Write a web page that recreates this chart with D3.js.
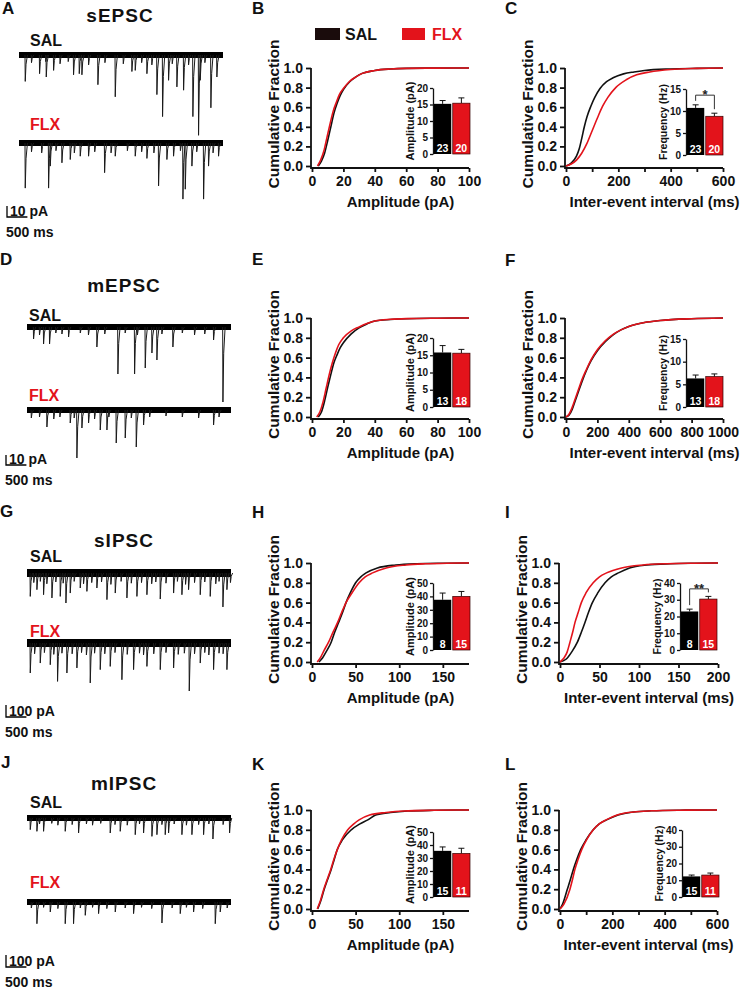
<!DOCTYPE html>
<html><head><meta charset="utf-8">
<script src="https://cdn.jsdelivr.net/npm/d3@7"></script>
<style>
body{margin:0;background:#fff}
svg text{font-family:"Liberation Sans",Arial,Helvetica,sans-serif;font-weight:bold}
</style>
</head><body>
<svg id="c" width="742" height="989"></svg>
<script>
const RED = "#e3131b";
const groups = ["SAL", "FLX"];

// ---------- cumulative distributions [x, fraction] ----------
const cumB_SAL = [[4,0],[6,0.05],[8,0.13],[10,0.26],[12,0.4],[14,0.54],[16,0.64],[18,0.72],[20,0.78],[24,0.86],[28,0.91],[32,0.945],[40,0.975],[50,0.99],[60,0.996],[80,0.999],[100,1]];
const cumB_FLX = [[3.5,0],[5.5,0.06],[7.5,0.15],[9.5,0.29],[11.5,0.43],[13.5,0.56],[15.5,0.65],[17.5,0.73],[20,0.79],[24,0.865],[28,0.91],[32,0.945],[40,0.975],[50,0.99],[60,0.996],[80,0.999],[100,1]];
const cumC_SAL = [[0,0],[20,0.03],[40,0.1],[50,0.17],[60,0.28],[70,0.4],[80,0.5],[95,0.61],[110,0.7],[130,0.79],[155,0.86],[180,0.9],[220,0.94],[260,0.96],[300,0.975],[400,0.99],[500,0.996],[600,1]];
const cumC_FLX = [[0,0],[20,0.02],[40,0.06],[60,0.13],[80,0.23],[100,0.36],[120,0.49],[140,0.61],[160,0.7],[190,0.8],[230,0.88],[270,0.93],[320,0.96],[400,0.985],[500,0.996],[600,1]];
const cumE_SAL = [[4,0],[6,0.05],[8,0.16],[10,0.3],[12,0.43],[14,0.55],[16,0.63],[18,0.7],[20,0.75],[25,0.84],[30,0.9],[35,0.94],[40,0.97],[50,0.985],[60,0.993],[80,0.998],[100,1]];
const cumE_FLX = [[3,0],[5,0.05],[7,0.15],[9,0.29],[11,0.43],[13,0.55],[15,0.65],[17,0.73],[20,0.8],[25,0.87],[30,0.91],[35,0.945],[40,0.97],[50,0.987],[60,0.994],[80,0.998],[100,1]];
const cumF_SAL = [[0,0],[20,0.02],[40,0.08],[60,0.17],[80,0.26],[100,0.35],[130,0.47],[160,0.57],[200,0.67],[250,0.76],[300,0.83],[350,0.88],[400,0.915],[500,0.955],[600,0.975],[800,0.993],[1000,1]];
const cumF_FLX = [[0,0],[20,0.03],[40,0.1],[60,0.19],[80,0.28],[100,0.37],[130,0.48],[160,0.58],[200,0.68],[250,0.77],[300,0.835],[350,0.88],[400,0.915],[500,0.955],[600,0.975],[800,0.993],[1000,1]];
const cumH_SAL = [[8,0],[12,0.04],[16,0.1],[22,0.2],[26,0.3],[30.5,0.4],[35,0.5],[39,0.6],[44,0.7],[50,0.8],[56,0.86],[62,0.9],[75,0.95],[96,0.98],[120,0.993],[150,0.998],[180,1]];
const cumH_FLX = [[6,0],[10,0.05],[14,0.12],[19,0.2],[24,0.3],[29.4,0.4],[34,0.5],[39,0.6],[46,0.7],[54,0.8],[61,0.86],[69.5,0.9],[85,0.95],[108,0.98],[130,0.992],[155,0.998],[180,1]];
const cumI_SAL = [[0,0],[8,0.03],[14.7,0.1],[22,0.2],[27,0.3],[31.6,0.4],[36,0.5],[41,0.6],[48,0.7],[57,0.8],[65,0.86],[74,0.9],[88,0.95],[110,0.98],[140,0.993],[170,0.998],[200,1]];
const cumI_FLX = [[0,0],[5,0.04],[9,0.1],[12.6,0.2],[16,0.3],[19,0.4],[23,0.5],[27,0.6],[33,0.7],[42,0.8],[50,0.86],[59,0.9],[78,0.95],[105,0.98],[135,0.993],[170,0.998],[200,1]];
const cumK_SAL = [[6.5,0],[10,0.08],[14,0.2],[18,0.3],[22,0.4],[25.5,0.5],[29,0.6],[35,0.7],[45,0.8],[55,0.86],[64,0.9],[73,0.95],[90,0.975],[110,0.99],[140,0.997],[180,1]];
const cumK_FLX = [[6,0],[9.5,0.08],[13.5,0.2],[17.5,0.3],[21.5,0.4],[25,0.5],[29,0.6],[34,0.7],[41,0.8],[48,0.86],[54,0.9],[66,0.95],[85,0.975],[105,0.99],[140,0.997],[180,1]];
const cumL_SAL = [[0,0],[10,0.05],[28,0.2],[40,0.3],[51,0.4],[64,0.5],[79,0.6],[100,0.7],[127,0.8],[150,0.86],[178,0.9],[222,0.95],[280,0.98],[350,0.992],[450,0.998],[600,1]];
const cumL_FLX = [[0,0],[15,0.05],[38,0.2],[48,0.3],[57,0.4],[69,0.5],[83,0.6],[102,0.7],[127,0.8],[150,0.86],[176,0.9],[218,0.95],[280,0.98],[350,0.992],[450,0.998],[600,1]];

// ---------- inset bar data: means, SEM, n ----------
const insB_mean = [15.2, 15.4], insB_err = [1.0, 1.6], insB_n = [23, 20];
const insC_mean = [10.7, 8.8],  insC_err = [0.7, 0.7], insC_n = [23, 20];
const insE_mean = [15.8, 15.6], insE_err = [2.0, 1.1], insE_n = [13, 18];
const insF_mean = [6.3, 6.7],   insF_err = [0.75, 0.6], insF_n = [13, 18];
const insH_mean = [37.5, 40],   insH_err = [5, 3.7],   insH_n = [8, 15];
const insI_mean = [23, 30.4],   insI_err = [1.4, 1.6], insI_n = [8, 15];
const insK_mean = [35.5, 33.5], insK_err = [3, 4],     insK_n = [15, 11];
const insL_mean = [12.3, 13.1], insL_err = [0.8, 1.2], insL_n = [15, 11];

// ---------- trace events [time ms, amplitude pA] ----------
const trA_SAL = [[147,24],[300,7],[498,17],[650,6],[662,20],[842,14],[1000,8],[1200,6],[1331,18],[1471,17],[1536,18],[1700,9],[1928,27],[2100,7],[2353,38],[2550,8],[2761,15],[2843,14],[3000,7],[3129,17],[3250,9],[3374,36],[3513,56],[3660,23],[3750,8],[3864,29],[4028,32],[4150,9],[4256,56],[4395,73],[4436,23],[4550,7],[4697,48],[4844,20]];
const trA_FLX = [[147,41],[300,8],[550,9],[719,41],[760,21],[900,7],[1046,18],[1250,15],[1350,9],[1495,12],[1699,12],[1850,8],[2092,27],[2250,9],[2353,12],[2650,7],[2843,12],[3000,8],[3129,14],[3300,9],[3415,39],[3619,15],[3782,12],[3950,7],[4012,51],[4069,42],[4232,21],[4350,8],[4518,51],[4640,21],[4750,9],[4885,12]];
const trD_SAL = [[155,12],[300,8],[400,17],[547,17],[700,6],[850,7],[1013,10],[1300,6],[1500,8],[1707,20],[1900,7],[2222,47],[2400,6],[2631,47],[2700,8],[2892,41],[3056,26],[3178,33],[3300,7],[3570,20],[3800,6],[4100,8],[4350,7],[4567,13],[4796,75]];
const trD_FLX = [[100,8],[300,7],[482,17],[650,9],[800,7],[1054,13],[1150,8],[1217,48],[1340,18],[1503,13],[1650,9],[1789,20],[1953,20],[2000,7],[2181,33],[2402,28],[2550,8],[2672,37],[2851,15],[3000,7],[3400,6],[3800,7],[4200,8],[4567,15],[4700,7]];
const trG_SAL = [[74,195],[160,80],[237,139],[320,70],[400,181],[480,90],[605,208],[700,75],[809,195],[880,85],[948,250],[1054,167],[1150,70],[1299,125],[1380,90],[1462,153],[1580,80],[1707,125],[1820,75],[1953,222],[2050,95],[2157,167],[2300,70],[2443,208],[2550,85],[2688,195],[2800,80],[2933,181],[3050,90],[3150,75],[3260,217],[3400,85],[3587,167],[3680,70],[3791,181],[3880,95],[3954,139],[4100,80],[4240,181],[4350,75],[4485,195],[4620,90],[4700,70],[4796,283],[4894,139],[4980,80]];
const trG_FLX = [[74,250],[180,90],[319,167],[420,80],[564,181],[650,95],[743,320],[850,85],[972,250],[1100,90],[1217,208],[1330,80],[1450,100],[1544,333],[1650,85],[1789,222],[1900,90],[2034,195],[2150,80],[2320,306],[2450,95],[2606,222],[2750,85],[2850,100],[2933,195],[3100,90],[3260,222],[3400,80],[3587,208],[3700,95],[3850,85],[3971,400],[4100,90],[4240,167],[4350,80],[4450,100],[4567,222],[4700,85],[4800,90],[4894,222]];
const trJ_SAL = [[74,97],[237,111],[300,50],[400,111],[600,45],[750,60],[931,111],[1100,55],[1258,125],[1450,50],[1600,60],[1800,45],[2034,125],[2150,55],[2279,111],[2450,60],[2647,139],[2750,50],[2851,125],[3056,153],[3178,139],[3300,55],[3382,139],[3464,125],[3600,50],[3791,139],[3900,60],[4036,139],[4200,55],[4322,139],[4450,50],[4551,175],[4800,55],[4959,125]];
const trJ_FLX = [[100,50],[237,181],[400,45],[564,83],[750,55],[931,181],[1135,181],[1300,50],[1422,111],[1600,45],[1748,97],[1950,55],[2157,83],[2400,50],[2606,97],[2800,45],[3050,55],[3301,175],[3550,50],[3750,97],[3900,45],[4077,83],[4300,55],[4608,181],[4730,83],[4900,50]];

// ================= drawing =================
const svg = d3.select("#c");
const line = d3.line().x(d => d[0]).y(d => d[1]);
const FONT = '"Liberation Sans",Arial,sans-serif';

function txt(x, y, s, size, opts = {}) {
  const t = svg.append("text").attr("x", x).attr("y", y).text(s)
    .attr("font-size", size).attr("fill", opts.fill || "#111");
  if (opts.anchor) t.attr("text-anchor", opts.anchor);
  if (opts.ls) t.attr("letter-spacing", opts.ls);
  return t;
}

// panel letters
[["A",2,14],["B",252,14],["C",505,14],["D",0,265],["E",252,265],["F",505,266],
 ["G",0,517],["H",252,518],["I",505,518],["J",1,768],["K",252,770],["L",505,770]]
 .forEach(([l,x,y]) => txt(x, y, l, 17));

// legend
svg.append("rect").attr("x",315).attr("y",28).attr("width",25).attr("height",12).attr("fill","#1a0c0c");
txt(345, 40, "SAL", 16);
svg.append("rect").attr("x",402).attr("y",28).attr("width",23).attr("height",12).attr("fill",RED);
txt(432, 40, "FLX", 16, {fill: RED});

// ---- traces ----
function trace(cfg) {
  const x = d3.scaleLinear().domain([0, 5000]).range([cfg.x0, cfg.x1]);
  [[cfg.sal, cfg.baseS], [cfg.flx, cfg.baseF]].forEach(([ev, base]) => {
    const y = d3.scaleLinear().domain([0, 100]).range([base, base + cfg.k * 100]);
    const g = svg.append("g");
    g.append("path").attr("d", line([[x(0), y(0)], [x(5000), y(0)]]))
      .attr("stroke", "#000").attr("stroke-width", cfg.band).attr("fill", "none");
    g.selectAll("path.ev").data(ev).join("path").attr("class", "ev")
      .attr("d", d => line([[x(d[0]), y(0)], [x(d[0] + 6), y(d[1])], [x(d[0] + 25), y(d[1] * 0.35)], [x(d[0] + 60), y(0)]]))
      .attr("stroke", "#1a1a1a").attr("stroke-width", 1).attr("fill", "none");
  });
  txt(cfg.tx, cfg.ty, cfg.title, 19, {anchor: "middle", ls: 1});
  txt(cfg.lx, cfg.salY, "SAL", 16);
  txt(cfg.lx, cfg.flxY, "FLX", 16, {fill: RED});
  const ys = d3.scaleLinear().domain([0, 100]).range([0, cfg.k * 100]);
  const vLen = ys(cfg.barPA), hLen = x(500) - x(0);
  svg.append("path").attr("d", line([[cfg.sbx, cfg.sby - vLen], [cfg.sbx, cfg.sby], [cfg.sbx + hLen, cfg.sby]]))
    .attr("stroke", "#000").attr("stroke-width", 1.3).attr("fill", "none");
  txt(cfg.sbx + 3, cfg.sby - 1, cfg.barPA + " pA", 14);
  txt(cfg.sbx - 1, cfg.sby + 20, "500 ms", 14);
}
trace({x0:19, x1:223, sal:trA_SAL, flx:trA_FLX, baseS:55, baseF:143, k:1.1, band:6,
  title:"sEPSC", tx:120, ty:22, lx:30, salY:46, flxY:130, barPA:10, sbx:7, sby:217});
trace({x0:27, x1:231, sal:trD_SAL, flx:trD_FLX, baseS:327, baseF:410, k:1.0, band:6,
  title:"mEPSC", tx:124, ty:292, lx:29, salY:321, flxY:401, barPA:10, sbx:6, sby:465});
trace({x0:27, x1:231, sal:trG_SAL, flx:trG_FLX, baseS:573, baseF:643, k:0.12, band:8,
  title:"sIPSC", tx:124, ty:547, lx:30, salY:562, flxY:637, barPA:100, sbx:6, sby:717});
trace({x0:27, x1:231, sal:trJ_SAL, flx:trJ_FLX, baseS:818, baseF:902, k:0.12, band:6,
  title:"mIPSC", tx:124, ty:790, lx:30, salY:808, flxY:888, barPA:100, sbx:6, sby:967});

// ---- cumulative panels ----
function cum(p) {
  const g = svg.append("g");
  const x = d3.scaleLinear().domain([0, p.xmax]).range([p.x0, p.x1]);
  const y = d3.scaleLinear().domain([0, 1]).range([p.yb, p.yt]);
  const ya = g.append("g").attr("transform", `translate(${p.x0 - 1},0)`)
    .call(d3.axisLeft(y).tickValues([0, .2, .4, .6, .8, 1]).tickFormat(d3.format(".1f")).tickSize(5).tickSizeOuter(0));
  const xa = g.append("g").attr("transform", `translate(0,${p.yb + 2})`)
    .call(d3.axisBottom(x).tickValues(p.ticks).tickFormat(d => p.labels.includes(d) ? d : "").tickSize(4).tickSizeOuter(0));
  [ya, xa].forEach(a => {
    a.select(".domain").remove();
    a.selectAll(".tick line").attr("stroke", "#111").attr("stroke-width", 1.8);
    a.selectAll("text").attr("font-size", 14).attr("fill", "#111")
      .attr("font-family", FONT).attr("font-weight", "bold");
  });
  xa.selectAll("text").attr("y", 8);
  ya.selectAll("text").attr("x", -8);
  g.append("path").attr("d", line([[p.x0 - 1, p.yt], [p.x0 - 1, p.yb + 2], [p.x1, p.yb + 2]]))
    .attr("stroke", "#111").attr("stroke-width", 1.8).attr("fill", "none");
  const cl = d3.line().x(d => x(d[0])).y(d => y(d[1])).curve(d3.curveMonotoneX);
  g.append("path").attr("d", cl(p.sal)).attr("stroke", "#111").attr("stroke-width", 1.6).attr("fill", "none");
  g.append("path").attr("d", cl(p.flx)).attr("stroke", RED).attr("stroke-width", 1.6).attr("fill", "none");
  g.append("text").attr("transform", `translate(${p.x0 - 33},${(p.yt + p.yb) / 2 - 3}) rotate(-90)`)
    .attr("text-anchor", "middle").attr("font-size", 15.5).attr("fill", "#111").text("Cumulative Fraction");
  g.append("text").attr("x", (p.x0 + p.x1) / 2 + 10).attr("y", p.yb + 41).attr("text-anchor", "middle")
    .attr("font-size", 15).attr("fill", "#111").text(p.xlabel);
}

function inset(p) {
  const g = svg.append("g");
  const y = d3.scaleLinear().domain([0, p.ymax]).range([p.y0, p.yt]);
  const x = d3.scaleBand().domain(groups).range([p.ax + 1, p.ax + 37]).paddingInner(0.08);
  const ya = g.append("g").attr("transform", `translate(${p.ax},0)`)
    .call(d3.axisLeft(y).tickValues(d3.range(0, p.ymax + 0.001, p.step)).tickSize(3).tickSizeOuter(0));
  ya.select(".domain").attr("stroke", "#111").attr("stroke-width", 1.3);
  ya.selectAll(".tick line").attr("stroke", "#111").attr("stroke-width", 1.3);
  ya.selectAll("text").attr("font-size", 10).attr("fill", "#111").attr("x", -5)
    .attr("font-family", FONT).attr("font-weight", "bold");
  g.append("text").attr("transform", `translate(${p.ax - 19},${(p.y0 + p.yt) / 2}) rotate(-90)`)
    .attr("text-anchor", "middle").attr("font-size", p.lsize).attr("fill", "#111").text(p.label);
  groups.forEach((gr, i) => {
    const bx = x(gr), bw = x.bandwidth(), m = p.mean[i], e = p.err[i];
    const cx = bx + bw / 2;
    g.append("path").attr("d", line([[cx, y(m)], [cx, y(m + e)]])).attr("stroke", "#111").attr("stroke-width", 1);
    g.append("path").attr("d", line([[cx - 3, y(m + e)], [cx + 3, y(m + e)]])).attr("stroke", "#111").attr("stroke-width", 1);
    g.append("rect").attr("x", bx).attr("y", y(m)).attr("width", bw).attr("height", y(0) - y(m))
      .attr("fill", i === 0 ? "#000" : RED).attr("stroke", i === 0 ? "none" : "#300").attr("stroke-width", 0.7);
    g.append("text").attr("x", cx).attr("y", p.y0 - 2).attr("text-anchor", "middle")
      .attr("font-size", 10.5).attr("fill", "#fff").text(p.n[i]);
  });
  if (p.sig) {
    const c0 = x("SAL") + x.bandwidth() / 2, c1 = x("FLX") + x.bandwidth() / 2;
    const top = y(p.sig.h);
    g.append("path").attr("d", line([[c0, y(p.mean[0] + p.err[0]) - 4], [c0, top], [c1, top], [c1, y(p.mean[1] + p.err[1]) - 4]]))
      .attr("stroke", "#333").attr("stroke-width", 1).attr("fill", "none");
    g.append("text").attr("x", (c0 + c1) / 2).attr("y", top + 4).attr("text-anchor", "middle")
      .attr("font-size", 13).attr("fill", "#222").text(p.sig.s);
  }
}

const colM = {x0: 312, x1: 469};
const rows = [{yt: 68, yb: 166}, {yt: 318, yb: 417}, {yt: 563, yb: 662}, {yt: 810, yb: 909}];
cum({...colM, ...rows[0], xmax: 100, ticks: [0,20,40,60,80,100], labels: [0,20,40,60,80,100], sal: cumB_SAL, flx: cumB_FLX, xlabel: "Amplitude (pA)"});
cum({x0: 566, x1: 723, ...rows[0], xmax: 600, ticks: [0,100,200,300,400,500,600], labels: [0,200,400,600], sal: cumC_SAL, flx: cumC_FLX, xlabel: "Inter-event interval (ms)"});
cum({...colM, ...rows[1], xmax: 100, ticks: [0,20,40,60,80,100], labels: [0,20,40,60,80,100], sal: cumE_SAL, flx: cumE_FLX, xlabel: "Amplitude (pA)"});
cum({x0: 566, x1: 723, ...rows[1], xmax: 1000, ticks: [0,200,400,600,800,1000], labels: [0,200,400,600,800,1000], sal: cumF_SAL, flx: cumF_FLX, xlabel: "Inter-event interval (ms)"});
cum({...colM, ...rows[2], xmax: 180, ticks: [0,50,100,150], labels: [0,50,100,150], sal: cumH_SAL, flx: cumH_FLX, xlabel: "Amplitude (pA)"});
cum({x0: 560, x1: 718, ...rows[2], xmax: 200, ticks: [0,50,100,150,200], labels: [0,50,100,150,200], sal: cumI_SAL, flx: cumI_FLX, xlabel: "Inter-event interval (ms)"});
cum({...colM, ...rows[3], xmax: 180, ticks: [0,50,100,150], labels: [0,50,100,150], sal: cumK_SAL, flx: cumK_FLX, xlabel: "Amplitude (pA)"});
cum({x0: 560, x1: 717, ...rows[3], xmax: 600, ticks: [0,100,200,300,400,500,600], labels: [0,200,400,600], sal: cumL_SAL, flx: cumL_FLX, xlabel: "Inter-event interval (ms)"});

inset({ax: 433, y0: 154, yt: 88, ymax: 20, step: 5, mean: insB_mean, err: insB_err, n: insB_n, label: "Amplitude (pA)", lsize: 11});
inset({ax: 686, y0: 155, yt: 89, ymax: 15, step: 5, mean: insC_mean, err: insC_err, n: insC_n, label: "Frequency (Hz)", lsize: 10.5, sig: {h: 13.6, s: "*"}});
inset({ax: 433, y0: 407, yt: 338, ymax: 20, step: 5, mean: insE_mean, err: insE_err, n: insE_n, label: "Amplitude (pA)", lsize: 11});
inset({ax: 686, y0: 407, yt: 339, ymax: 15, step: 5, mean: insF_mean, err: insF_err, n: insF_n, label: "Frequency (Hz)", lsize: 10.5});
inset({ax: 433, y0: 650, yt: 583, ymax: 50, step: 10, mean: insH_mean, err: insH_err, n: insH_n, label: "Amplitude (pA)", lsize: 11});
inset({ax: 680, y0: 650, yt: 583, ymax: 40, step: 10, mean: insI_mean, err: insI_err, n: insI_n, label: "Frequency (Hz)", lsize: 10.5, sig: {h: 36.5, s: "**"}});
inset({ax: 433, y0: 897, yt: 832, ymax: 50, step: 10, mean: insK_mean, err: insK_err, n: insK_n, label: "Amplitude (pA)", lsize: 11});
inset({ax: 682, y0: 897, yt: 830, ymax: 40, step: 10, mean: insL_mean, err: insL_err, n: insL_n, label: "Frequency (Hz)", lsize: 10.5});
</script>
</body></html>
